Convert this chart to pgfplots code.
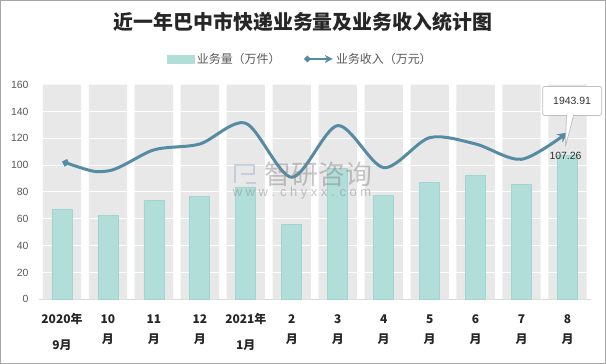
\documentclass[border=0pt]{standalone}
\usepackage{fontspec}
\setmainfont{Liberation Sans}
\newfontfamily\cjk{Noto Sans CJK SC}
\usepackage{pgfplots}
\pgfplotsset{compat=1.18}
\usetikzlibrary{arrows.meta,shapes.callouts}
\definecolor{barc}{HTML}{B2DEDA}
\definecolor{barb}{HTML}{A3D5D0}
\definecolor{colg}{HTML}{E8E8E8}
\definecolor{linec}{HTML}{568CA3}
\definecolor{axc}{HTML}{D9D9D9}
\definecolor{tickc}{HTML}{595959}
\definecolor{framec}{HTML}{A6A6A6}
\definecolor{logoc}{HTML}{B4C2D6}
\pgfplotsset{base/.style={scale only axis, width=551.5bp, height=214.6bp,
  at={(39bp,64.7bp)}, anchor=south west, xmin=-0.5, xmax=11.5, clip=false}}
\begin{document}
\begin{tikzpicture}
\useasboundingbox (0,0) rectangle (606bp,364bp);
\fill[white] (0,0) rectangle (606bp,364bp);
\begin{axis}[base, ymin=0, ymax=160,
  ytick={0,20,...,160},
  xtick={0,...,11},
  xticklabels={{\strut 2020年\\[6bp]9月},{\strut 10\\月},{\strut 11\\月},{\strut 12\\月},{\strut 2021年\\[6bp]1月},{\strut 2\\月},{\strut 3\\月},{\strut 4\\月},{\strut 5\\月},{\strut 6\\月},{\strut 7\\月},{\strut 8\\月}},
  minor xtick={-0.5,0.5,...,11.5},
  major tick length=0pt, minor tick length=4bp, tick align=outside,
  axis x line*=bottom, axis y line*=left,
  y axis line style={draw=none}, ytick style={draw=none},
  x axis line style={axc, line width=0.75bp},
  xtick style={draw=none},
  minor x tick style={axc, line width=0.75bp},
  xticklabel style={font=\cjk\bfseries\fontsize{12}{20}\selectfont, text=black!85, align=center, anchor=north, yshift=-7bp},
  yticklabel style={font=\fontsize{10.5}{12}\selectfont, text=tickc, xshift=-7bp},
  /pgf/number format/assume math mode=true,
  legend style={draw=none, fill=none, at={(0.474,1.12)}, anchor=center, legend columns=2,
    font=\cjk\fontsize{12}{14}\selectfont, text=tickc,
    /tikz/every even column/.append style={column sep=20bp}},
]
\addplot[ybar, bar width=38.3bp, fill=colg, draw=none, forget plot] coordinates {
(0,160) (1,160) (2,160) (3,160) (4,160) (5,160) (6,160) (7,160) (8,160) (9,160) (10,160) (11,160)};
\pgfplotsinvokeforeach{20,40,60,80,100,120,140}{
\addplot[white, line width=1bp, forget plot] coordinates {(-0.5,#1) (11.5,#1)};
}
\addplot[ybar, bar width=20bp, fill=barc, draw=barb, line width=0.75bp,
  nodes near coords, point meta=explicit symbolic,
  every node near coord/.append style={font=\fontsize{10.5}{12}\selectfont, text=black!80, yshift=-8bp, xshift=-2bp},
  legend image code/.code={\fill[barc] (0bp,-4bp) rectangle (27bp,4bp);}]
coordinates {
(0,67.1)[] (1,62.6)[] (2,73.8)[] (3,76.8)[] (4,83.8)[] (5,55.9)[]
(6,97.8)[] (7,77.5)[] (8,87.2)[] (9,92.5)[] (10,85.8)[] (11,107.26)[107.26]};
\addlegendentry{业务量（万件）}
\addlegendimage{linec, legend image code/.code={\draw[linec, line width=2.5bp, {Diamond[length=7bp,width=7bp]}-{Stealth[length=8bp,width=8bp]}] (0bp,0bp) -- (29bp,0bp);}}
\addlegendentry{业务收入（万元）}
\end{axis}
\begin{axis}[base, ymin=0, ymax=2500, hide axis]
\addplot[linec, line width=3bp, smooth, {Diamond[length=8bp,width=8bp]}-{Stealth[length=10bp,width=10bp]}]
coordinates {
(0,1604.7) (1,1495.3) (2,1740.6) (3,1809.4) (4,2050) (5,1421.9)
(6,2023.4) (7,1534.4) (8,1882.8) (9,1809.4) (10,1631.3) (11,1943.91)}
node[pos=1, arrows=-, shape=rectangle callout, draw=black!25, fill=white, line width=0.75bp,
  rounded corners=2bp, minimum width=59bp, minimum height=29bp,
  xshift=4.6bp, yshift=31.5bp, callout relative pointer={(-4.6bp,-31.5bp)},
  font=\fontsize{10.5}{12}\selectfont, text=black!80] {1943.91};
\end{axis}
\node[font=\cjk\bfseries\fontsize{20}{24}\selectfont, text=black!85] at (303bp,342bp) {近一年巴中市快递业务量及业务收入统计图};
\draw[logoc, line width=2.5bp, opacity=0.7] (235bp,181bp) -- (235bp,199bp) -- (254bp,199bp) -- (254bp,190bp) -- (241bp,190bp);
\draw[logoc, line width=2.5bp, opacity=0.7] (246bp,181bp) -- (256bp,181bp);
\node[font=\cjk\fontsize{27}{30}\selectfont, text=gray, opacity=0.45] at (318.5bp,190bp) {智研咨询};
\node[font=\fontsize{13}{15}\selectfont, text=gray, opacity=0.45] at (302bp,171bp) {w w w . c h y x x . c o m};
\draw[framec, line width=1bp] (0.5bp,0.5bp) rectangle (605.5bp,363.5bp);
\end{tikzpicture}
\end{document}
